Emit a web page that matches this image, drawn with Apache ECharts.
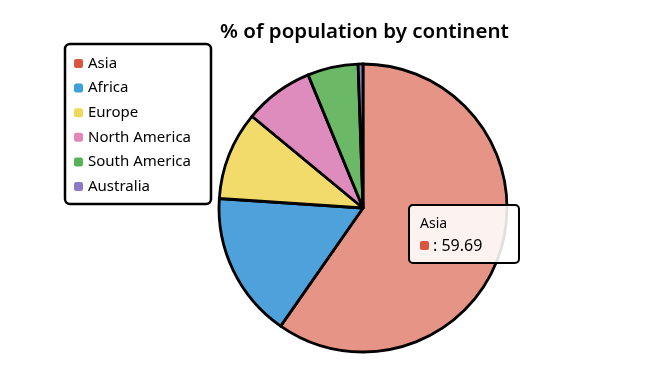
<!DOCTYPE html>
<html>
<head>
<meta charset="utf-8">
<script src="https://cdn.jsdelivr.net/npm/echarts@6/dist/echarts.min.js"></script>
<style>
html,body{margin:0;padding:0;background:#fff;}
#c{width:652px;height:367px;}
</style>
</head>
<body>
<div id="c"></div>
<script>
var titleText = '% of population by continent';
var categories = ['Asia', 'Africa', 'Europe', 'North America', 'South America', 'Australia'];
var values = [59.69, 16.36, 9.94, 7.79, 5.68, 0.54];
var sliceColors = ['#e69485', '#4ea1da', '#f2db6b', '#de8bbd', '#6bb866', '#8e7fca'];
var legendColors = ['#d9553b', '#3d9fdd', '#f0d85a', '#e387b9', '#56b257', '#8c7ac6'];

var FONT = '"Noto Sans", "DejaVu Sans", sans-serif';
var chart = echarts.init(document.getElementById('c'));

var pieData = categories.map(function (n, i) {
  return { name: n, value: values[i], itemStyle: { color: sliceColors[i] } };
});
var legendData = categories.map(function (n, i) {
  return { name: n, itemStyle: { color: legendColors[i], borderWidth: 0 } };
});

chart.setOption({
  animation: false,
  backgroundColor: '#ffffff',
  title: {
    text: titleText,
    left: 215,
    top: 17,
    textStyle: { fontFamily: FONT, fontSize: 20.5, fontWeight: 600, color: '#000' }
  },
  legend: {
    orient: 'vertical',
    left: 65,
    top: 44,
    data: legendData,
    icon: 'roundRect',
    itemWidth: 9,
    itemHeight: 9,
    itemGap: 9.6,
    padding: [12, 20, 10, 9],
    borderColor: '#000',
    borderWidth: 2.5,
    borderRadius: 5,
    backgroundColor: '#fff',
    textStyle: { fontFamily: FONT, fontSize: 15, color: '#000' },
    itemStyle: { borderWidth: 0 },
    selectedMode: false
  },
  tooltip: {
    trigger: 'item',
    alwaysShowContent: true,
    showDelay: 0,
    transitionDuration: 0,
    backgroundColor: 'rgba(255,255,255,0.88)',
    borderColor: '#000',
    borderWidth: 2.5,
    borderRadius: 5,
    padding: [6, 10, 6, 10],
    extraCssText: 'box-shadow:none;width:88px;',
    position: function () { return [408, 204]; },
    formatter: function (p) {
      var c = legendColors[p.dataIndex];
      return '<div style="font-family:' + FONT.replace(/"/g, "'") + ';color:#000;line-height:22px;">' +
        '<div style="font-size:14px;">' + p.name + '</div>' +
        '<div style="font-size:16px;"><span style="display:inline-block;width:9px;height:9px;border-radius:2px;background:' + c + ';margin-right:4px;vertical-align:1px;"></span>: ' + p.value.toFixed(2) + '</div></div>';
    }
  },
  series: [{
    type: 'pie',
    center: [363, 208],
    radius: [0, 144],
    startAngle: 90,
    clockwise: true,
    label: { show: false },
    labelLine: { show: false },
    emphasis: { disabled: true },
    itemStyle: { borderColor: '#000', borderWidth: 2.8, borderJoin: 'round' },
    data: pieData
  }]
});

chart.dispatchAction({ type: 'showTip', seriesIndex: 0, dataIndex: 0 });
</script>
</body>
</html>
